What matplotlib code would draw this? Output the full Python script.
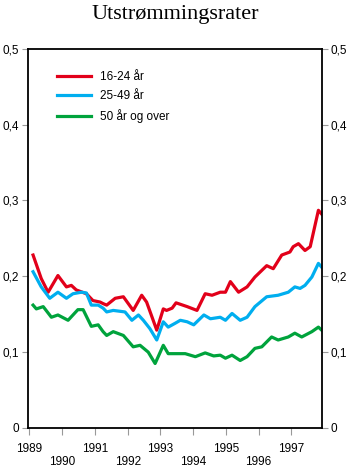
import matplotlib
matplotlib.use("Agg")
import matplotlib.pyplot as plt
from matplotlib.ticker import FixedLocator, FuncFormatter

title = "Utstrømmingsrater"
series_labels = ["16-24 år", "25-49 år", "50 år og over"]
colors = ["#e2001a", "#00aeef", "#00a33c"]

t_young = [1989.11, 1989.36, 1989.57, 1989.87, 1990.13, 1990.28, 1990.43, 1990.74,
           1990.94, 1991.16, 1991.25, 1991.36, 1991.62, 1991.87, 1992.17, 1992.43,
           1992.58, 1992.89, 1993.09, 1993.19, 1993.36, 1993.48, 1993.82, 1994.12,
           1994.37, 1994.58, 1994.83, 1994.99, 1995.14, 1995.39, 1995.65, 1995.89,
           1996.25, 1996.45, 1996.71, 1996.96, 1997.06, 1997.22, 1997.42, 1997.58,
           1997.83, 1997.93]
v_young = [0.228, 0.197, 0.179, 0.201, 0.186, 0.188, 0.182, 0.177,
           0.168, 0.166, 0.164, 0.162, 0.171, 0.173, 0.155, 0.175,
           0.166, 0.129, 0.157, 0.155, 0.158, 0.165, 0.160, 0.155,
           0.177, 0.175, 0.179, 0.179, 0.193, 0.179, 0.186, 0.199,
           0.214, 0.210, 0.228, 0.232, 0.239, 0.243, 0.234, 0.239,
           0.287, 0.282]

t_mid = [1989.11, 1989.36, 1989.62, 1989.87, 1990.13, 1990.33, 1990.59, 1990.74,
         1990.89, 1991.10, 1991.25, 1991.36, 1991.56, 1991.92, 1992.13, 1992.33,
         1992.48, 1992.68, 1992.89, 1993.09, 1993.24, 1993.45, 1993.61, 1993.82,
         1994.02, 1994.33, 1994.53, 1994.83, 1994.99, 1995.19, 1995.44, 1995.65,
         1995.89, 1996.25, 1996.60, 1996.91, 1997.11, 1997.27, 1997.42, 1997.63,
         1997.83, 1997.93]
v_mid = [0.206, 0.186, 0.171, 0.179, 0.171, 0.177, 0.179, 0.178,
         0.162, 0.162, 0.158, 0.153, 0.155, 0.153, 0.142, 0.149,
         0.142, 0.131, 0.116, 0.140, 0.133, 0.138, 0.142, 0.140,
         0.136, 0.149, 0.144, 0.146, 0.142, 0.151, 0.142, 0.146,
         0.160, 0.173, 0.175, 0.179, 0.186, 0.184, 0.188, 0.199,
         0.217, 0.212]

t_old = [1989.11, 1989.21, 1989.42, 1989.67, 1989.87, 1990.18, 1990.48, 1990.64,
         1990.89, 1991.10, 1991.25, 1991.36, 1991.56, 1991.87, 1992.17, 1992.38,
         1992.63, 1992.84, 1993.09, 1993.24, 1993.45, 1993.76, 1994.07, 1994.37,
         1994.63, 1994.83, 1994.99, 1995.19, 1995.44, 1995.65, 1995.89, 1996.10,
         1996.40, 1996.60, 1996.91, 1997.11, 1997.32, 1997.63, 1997.83, 1997.93]
v_old = [0.162, 0.157, 0.160, 0.146, 0.149, 0.142, 0.156, 0.156,
         0.134, 0.136, 0.127, 0.122, 0.127, 0.122, 0.107, 0.109,
         0.100, 0.085, 0.109, 0.098, 0.098, 0.098, 0.094, 0.099,
         0.095, 0.096, 0.092, 0.096, 0.089, 0.094, 0.105, 0.107,
         0.120, 0.116, 0.120, 0.125, 0.120, 0.127, 0.133, 0.129]

years_odd = [1989, 1991, 1993, 1995, 1997]
years_even = [1990, 1992, 1994, 1996]
y_ticks = [0, 0.1, 0.2, 0.3, 0.4, 0.5]

plt.rcParams['font.family'] = ['Liberation Sans', 'DejaVu Sans']

fig = plt.figure(figsize=(3.5, 4.68), dpi=100)
ax = fig.add_axes([27.5 / 350, 1 - 428 / 468, (322 - 27.5) / 350, (428 - 48.7) / 468])

for t, v, c, lab in zip([t_young, t_mid, t_old], [v_young, v_mid, v_old], colors, series_labels):
    ax.plot(t, v, color=c, lw=2.3, label=lab, solid_joinstyle='round')

ax.set_xlim(1988.94, 1997.94)
ax.set_ylim(0, 0.5)

for s in ax.spines.values():
    s.set_linewidth(1.3)
    s.set_color('black')

ax.xaxis.set_major_locator(FixedLocator(years_odd))
ax.xaxis.set_minor_locator(FixedLocator(years_even))
ax.xaxis.set_major_formatter(FuncFormatter(lambda x, p: f"{int(round(x))}"))
ax.xaxis.set_minor_formatter(FuncFormatter(lambda x, p: f"{int(round(x))}"))
ax.tick_params(axis='x', which='major', direction='out', length=5, width=0.8,
               color='#999999', labelsize=8.5, pad=6)
ax.tick_params(axis='x', which='minor', direction='out', length=5, width=0.8,
               color='#999999', labelsize=8.5, pad=15)

ax.set_yticks(y_ticks)
ax.set_yticklabels(["0" if v == 0 else f"{v:.1f}".replace('.', ',') for v in y_ticks])
ax.tick_params(axis='y', which='major', direction='out', length=4, width=0.8,
               color='#999999', labelsize=8.5, pad=2, left=True, right=True,
               labelleft=True, labelright=True)

fig.text(0.5, 1 - 15 / 468, title, ha='center', va='center',
         family=['Liberation Serif', 'DejaVu Serif'], fontsize=16)

leg = ax.legend(loc='upper left', bbox_to_anchor=(57 / 350, 1 - 71 / 468),
                bbox_transform=fig.transFigure, frameon=False, fontsize=8.5,
                handlelength=2.9, handletextpad=0.75, labelspacing=0.6,
                borderpad=0, borderaxespad=0)

fig.savefig("out.png", dpi=100)
